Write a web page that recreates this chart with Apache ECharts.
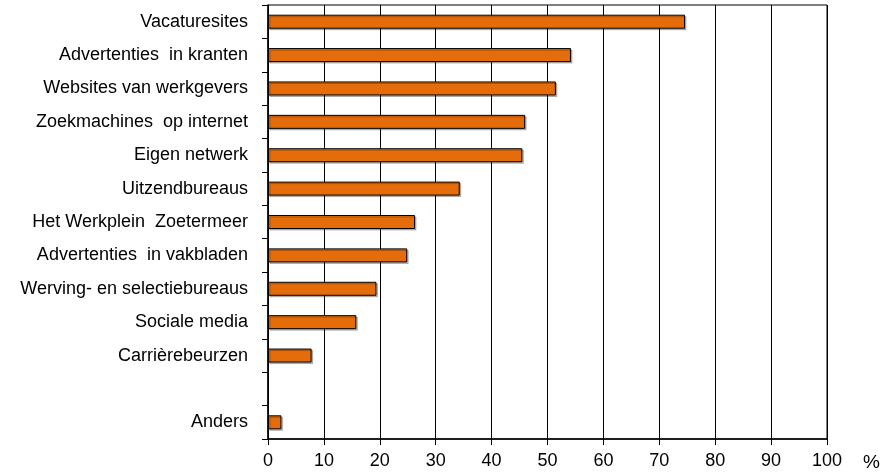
<!DOCTYPE html>
<html>
<head>
<meta charset="utf-8">
<script src="https://cdn.jsdelivr.net/npm/echarts@6/dist/echarts.min.js"></script>
<style>html,body{margin:0;padding:0;background:#fff;}#c{width:884px;height:475px;}</style>
</head>
<body>
<div id="c"></div>
<script>
const categories = ['Vacaturesites','Advertenties  in kranten','Websites van werkgevers','Zoekmachines  op internet','Eigen netwerk','Uitzendbureaus','Het Werkplein  Zoetermeer','Advertenties  in vakbladen','Werving- en selectiebureaus','Sociale media','Carrièrebeurzen','','Anders'];
const values = [74.6, 54.2, 51.5, 46.0, 45.5, 34.3, 26.3, 24.9, 19.4, 15.8, 7.8, null, 2.4];
const xTicks = [0,10,20,30,40,50,60,70,80,90,100];

const chart = echarts.init(document.getElementById('c'));
chart.setOption({
  animation: false,
  backgroundColor: '#fff',
  textStyle: {fontFamily: 'Liberation Sans, Arial, sans-serif'},
  grid: {left: 268, right: 57, top: 5, bottom: 36, show: true, borderColor: '#000', borderWidth: 1},
  xAxis: {
    type: 'value', min: 0, max: 100, interval: 10,
    name: '%', nameLocation: 'end', nameGap: 36,
    nameTextStyle: {fontSize: 19, color: '#000', verticalAlign: 'top', padding: [14,0,0,0]},
    axisLine: {show: true, lineStyle: {color: '#000', width: 1.5}},
    axisTick: {show: true, length: 6, lineStyle: {color: '#000'}},
    axisLabel: {fontSize: 18, color: '#000', margin: 13, formatter: v => xTicks.includes(v) ? String(v) : ''},
    splitLine: {show: true, lineStyle: {color: '#000', width: 1}}
  },
  yAxis: {
    type: 'category', data: categories, inverse: true,
    axisLine: {show: true, lineStyle: {color: '#000', width: 1.5}},
    axisTick: {show: true, length: 6, lineStyle: {color: '#000'}},
    axisLabel: {fontSize: 18, color: '#000', margin: 20},
    splitLine: {show: false}
  },
  series: [{
    type: 'bar', data: values, barWidth: 14,
    itemStyle: {color: '#E46C0A', borderColor: '#000', borderWidth: 1,
      shadowColor: 'rgba(0,0,0,0.25)', shadowOffsetX: 1.5, shadowOffsetY: 1.5, shadowBlur: 0}
  }]
});
</script>
</body>
</html>
